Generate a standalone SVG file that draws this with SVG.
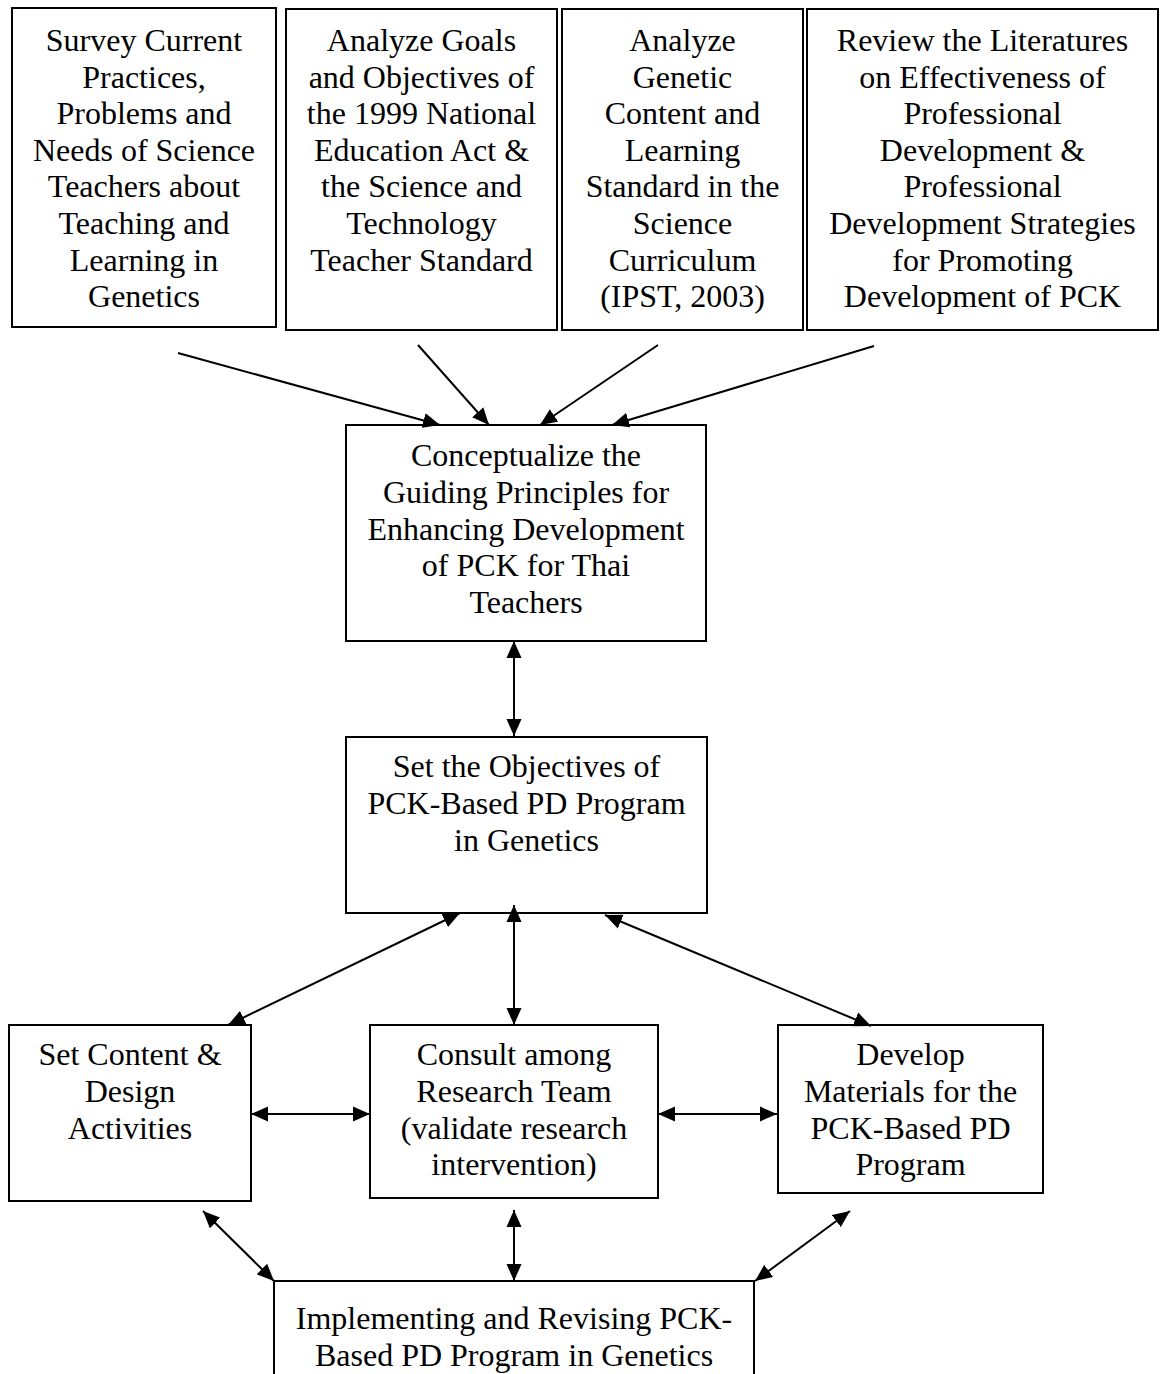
<svg xmlns="http://www.w3.org/2000/svg" width="1162" height="1374" viewBox="0 0 1162 1374">
<style>
.box{fill:#fff;stroke:#000;stroke-width:2}
.t{font-family:"Liberation Serif","Times New Roman",serif;font-size:32px;fill:#000;text-anchor:middle}
.c{stroke:#000;stroke-width:2;fill:none}
.one{marker-end:url(#ah)}
.two{marker-start:url(#ah);marker-end:url(#ah)}
</style>
<defs>
<marker id="ah" markerUnits="userSpaceOnUse" markerWidth="18" markerHeight="16" refX="17" refY="8" orient="auto-start-reverse" viewBox="0 0 18 16">
<path d="M0,0.5 L17,8 L0,15.5 z" fill="#000"/>
</marker>
</defs>
<rect width="1162" height="1374" fill="#fff"/>
<g id="n1">
<rect class="box" x="12" y="8" width="264" height="319"/>
<text class="t" x="144" y="51">Survey Current<tspan x="144" dy="36.6">Practices,</tspan><tspan x="144" dy="36.6">Problems and</tspan><tspan x="144" dy="36.6">Needs of Science</tspan><tspan x="144" dy="36.6">Teachers about</tspan><tspan x="144" dy="36.6">Teaching and</tspan><tspan x="144" dy="36.6">Learning in</tspan><tspan x="144" dy="36.6">Genetics</tspan></text>
</g>
<g id="n2">
<rect class="box" x="286" y="9" width="271" height="321"/>
<text class="t" x="421.5" y="51">Analyze Goals<tspan x="421.5" dy="36.6">and Objectives of</tspan><tspan x="421.5" dy="36.6">the 1999 National</tspan><tspan x="421.5" dy="36.6">Education Act &amp;</tspan><tspan x="421.5" dy="36.6">the Science and</tspan><tspan x="421.5" dy="36.6">Technology</tspan><tspan x="421.5" dy="36.6">Teacher Standard</tspan></text>
</g>
<g id="n3">
<rect class="box" x="562" y="9" width="241" height="321"/>
<text class="t" x="682.5" y="51">Analyze<tspan x="682.5" dy="36.6">Genetic</tspan><tspan x="682.5" dy="36.6">Content and</tspan><tspan x="682.5" dy="36.6">Learning</tspan><tspan x="682.5" dy="36.6">Standard in the</tspan><tspan x="682.5" dy="36.6">Science</tspan><tspan x="682.5" dy="36.6">Curriculum</tspan><tspan x="682.5" dy="36.6">(IPST, 2003)</tspan></text>
</g>
<g id="n4">
<rect class="box" x="807" y="9" width="351" height="321"/>
<text class="t" x="982.5" y="51">Review the Literatures<tspan x="982.5" dy="36.6">on Effectiveness of</tspan><tspan x="982.5" dy="36.6">Professional</tspan><tspan x="982.5" dy="36.6">Development &amp;</tspan><tspan x="982.5" dy="36.6">Professional</tspan><tspan x="982.5" dy="36.6">Development Strategies</tspan><tspan x="982.5" dy="36.6">for Promoting</tspan><tspan x="982.5" dy="36.6">Development of PCK</tspan></text>
</g>
<g id="n5">
<rect class="box" x="346" y="425" width="360" height="216"/>
<text class="t" x="526" y="466">Conceptualize the<tspan x="526" dy="36.8">Guiding Principles for</tspan><tspan x="526" dy="36.8">Enhancing Development</tspan><tspan x="526" dy="36.8">of PCK for Thai</tspan><tspan x="526" dy="36.8">Teachers</tspan></text>
</g>
<g id="n6">
<rect class="box" x="346" y="737" width="361" height="176"/>
<text class="t" x="526.5" y="777">Set the Objectives of<tspan x="526.5" dy="36.8">PCK-Based PD Program</tspan><tspan x="526.5" dy="36.8">in Genetics</tspan></text>
</g>
<g id="n7">
<rect class="box" x="9" y="1025" width="242" height="176"/>
<text class="t" x="130" y="1065">Set Content &amp;<tspan x="130" dy="36.8">Design</tspan><tspan x="130" dy="36.8">Activities</tspan></text>
</g>
<g id="n8">
<rect class="box" x="370" y="1025" width="288" height="173"/>
<text class="t" x="514" y="1065">Consult among<tspan x="514" dy="36.8">Research Team</tspan><tspan x="514" dy="36.8">(validate research</tspan><tspan x="514" dy="36.8">intervention)</tspan></text>
</g>
<g id="n9">
<rect class="box" x="778" y="1025" width="265" height="168"/>
<text class="t" x="910.5" y="1065">Develop<tspan x="910.5" dy="36.8">Materials for the</tspan><tspan x="910.5" dy="36.8">PCK-Based PD</tspan><tspan x="910.5" dy="36.8">Program</tspan></text>
</g>
<g id="n10">
<rect class="box" x="274" y="1281" width="480" height="120"/>
<text class="t" x="514" y="1329">Implementing and Revising PCK-<tspan x="514" dy="36.8">Based PD Program in Genetics</tspan></text>
</g>
<g id="connectors">
<line class="c one" x1="178" y1="353" x2="440" y2="425"/>
<line class="c one" x1="418" y1="345" x2="489" y2="425"/>
<line class="c one" x1="658" y1="345" x2="540" y2="425"/>
<line class="c one" x1="874" y1="346" x2="612" y2="425"/>
<line class="c two" x1="514" y1="641" x2="514" y2="736"/>
<line class="c two" x1="460" y1="913" x2="228" y2="1025"/>
<line class="c two" x1="514" y1="905" x2="514" y2="1025"/>
<line class="c two" x1="605" y1="915" x2="871" y2="1026"/>
<line class="c two" x1="251" y1="1114" x2="370" y2="1114"/>
<line class="c two" x1="658" y1="1114" x2="777" y2="1114"/>
<line class="c two" x1="203" y1="1211" x2="274" y2="1281"/>
<line class="c two" x1="514" y1="1210" x2="514" y2="1281"/>
<line class="c two" x1="850" y1="1211" x2="755" y2="1281"/>
</g>
</svg>
